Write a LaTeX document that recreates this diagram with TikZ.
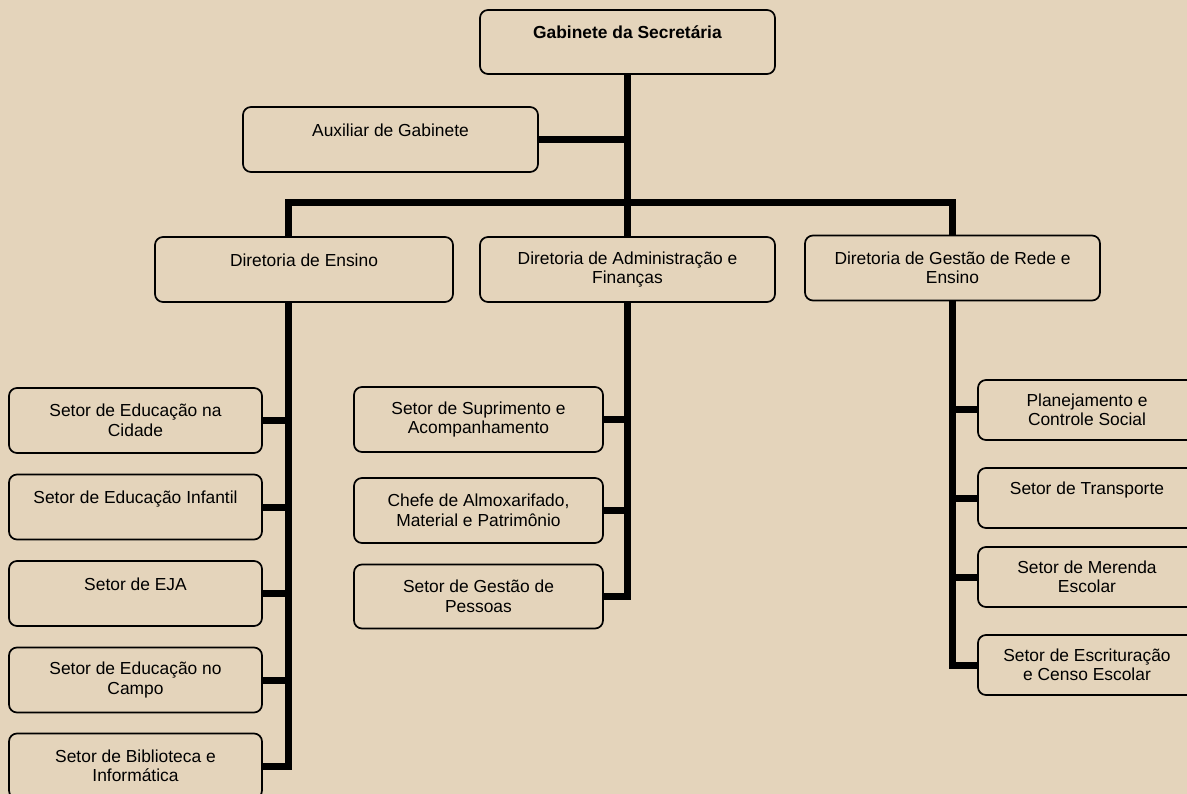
\documentclass[tikz,border=0pt]{standalone}
\usepackage{fontspec}
\setmainfont{Liberation Sans}
\definecolor{paper}{RGB}{228,212,187}

\begin{document}
\begin{tikzpicture}[x=1pt,y=-1pt]
\tikzstyle{every node}=[draw, rounded corners=8pt, line width=1.7pt, inner sep=0pt, align=center, font=\fontsize{17.4}{19.5}\selectfont]
\tikzstyle{head}=[minimum width=295pt, minimum height=65pt]
\tikzstyle{unit}=[minimum width=253pt, minimum height=65pt]
\tikzstyle{link}=[line width=7pt, line join=miter]
\useasboundingbox (0,0) rectangle (1187,794);
\fill[paper] (0,0) rectangle (1187,794);
\clip (0,0) rectangle (1187,794);
% top
\node (gab) [head, minimum height=64pt] at (627.5,42) {\textbf{Gabinete da Secretária}\\ \phantom{X}};
\node (aux) [head] at (390.5,139.5) {Auxiliar de Gabinete\\ \phantom{X}};
% diretorias
\node (ens) [head, minimum width=298pt] at (304,269.5) {Diretoria de Ensino\\ \phantom{X}};
\node (adm) [head] at (627.5,269.5) {Diretoria de Administração e\\ Finanças};
\node (ges) [head] at (952.5,268) {Diretoria de Gestão de Rede e\\ Ensino};
% ensino
\node (l1) [unit] at (135.5,420.5) {Setor de Educação na\\ Cidade};
\node (l2) [unit] at (135.5,507) {Setor de Educação Infantil\\ \phantom{X}};
\node (l3) [unit] at (135.5,593.5) {Setor de EJA\\ \phantom{X}};
\node (l4) [unit] at (135.5,680) {Setor de Educação no\\ Campo};
\node (l5) [unit] at (135.5,766) {Setor de Biblioteca e\\ Informática};
% administracao
\node (m1) [unit, minimum width=249pt] at (478.5,419.5) {Setor de Suprimento e\\ Acompanhamento};
\node (m2) [unit, minimum width=249pt] at (478.5,510.5) {Chefe de Almoxarifado,\\ Material e Patrimônio};
\node (m3) [unit, minimum width=249pt, minimum height=64pt] at (478.5,596.5) {Setor de Gestão de\\ Pessoas};
% gestao
\node (r1) [unit, minimum width=218pt, minimum height=60pt] at (1087,410) {Planejamento e\\ Controle Social};
\node (r2) [unit, minimum width=218pt, minimum height=60pt] at (1087,498) {Setor de Transporte\\ \phantom{X}};
\node (r3) [unit, minimum width=218pt, minimum height=60pt] at (1087,577) {Setor de Merenda\\ Escolar};
\node (r4) [unit, minimum width=218pt, minimum height=60pt] at (1087,665) {Setor de Escrituração\\ e Censo Escolar};
\coordinate (ensx) at (288,0);
\coordinate (bus) at (627.5,203);
\draw[link] (gab.south) -- (adm.north);
\draw[link] (aux.east) -- (aux.east -| gab.south);
\draw[link] (ens.north -| ensx) |- (bus) -| (ges.north);
\draw[link] (ens.south -| ensx) |- (l5.east);
\foreach \n in {l1,l2,l3,l4} \draw[link] (\n.east) -- (\n.east -| ensx);
\draw[link] (adm.south) |- (m3.east);
\foreach \n in {m1,m2} \draw[link] (\n.east) -- (\n.east -| adm.south);
\draw[link] (ges.south) |- (r4.west);
\foreach \n in {r1,r2,r3} \draw[link] (\n.west) -- (\n.west -| ges.south);
\end{tikzpicture}
\end{document}
